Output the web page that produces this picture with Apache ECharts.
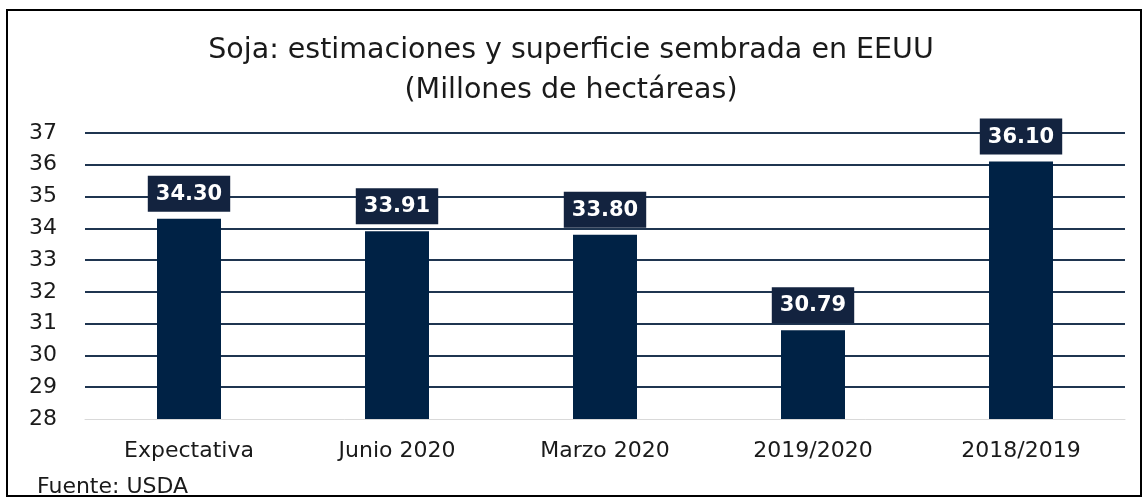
<!DOCTYPE html>
<html>
<head>
<meta charset="utf-8">
<script src="https://cdn.jsdelivr.net/npm/echarts@6/dist/echarts.min.js"></script>
<style>
  html, body { margin: 0; padding: 0; background: #fff; }
  #chart { width: 1148px; height: 497px; }
</style>
</head>
<body>
<div id="chart"></div>
<script>
  // datos
  const categorias = ['Expectativa', 'Junio 2020', 'Marzo 2020', '2019/2020', '2018/2019']
  const superficie = [34.30, 33.91, 33.80, 30.79, 36.10]

  const myChart = echarts.init(document.getElementById('chart'))
  const option = {
    animation: false,
    title: {
      text: 'Soja: estimaciones y superficie sembrada en EEUU\n(Millones de hectáreas)',
      left: 566,
      textAlign: 'center',
      top: 26,
      textStyle: {
        fontFamily: 'DejaVu Sans',
        fontWeight: 'normal',
        fontSize: 28.5,
        lineHeight: 40,
        color: '#1a1a1a'
      }
    },
    graphic: [
      {
        type: 'rect',
        shape: { x: 7, y: 10, width: 1134, height: 486 },
        style: { fill: 'none', stroke: '#000', lineWidth: 2 }
      },
      {
        type: 'text',
        left: 37,
        top: 476,
        style: { text: 'Fuente: USDA', font: '22px "DejaVu Sans"', fill: '#1a1a1a' }
      }
    ],
    grid: { left: 85, right: 23, top: 133, bottom: 78 },
    xAxis: {
      type: 'category',
      data: categorias,
      axisLine: { lineStyle: { color: '#d9d9d9', width: 1 } },
      axisTick: { show: false },
      axisLabel: {
        margin: 21,
        fontFamily: 'DejaVu Sans',
        fontSize: 22,
        color: '#1a1a1a'
      }
    },
    yAxis: {
      type: 'value',
      min: 28,
      max: 37,
      interval: 1,
      axisLine: { show: false },
      axisTick: { show: false },
      axisLabel: {
        margin: 28,
        fontFamily: 'DejaVu Sans',
        fontSize: 22,
        color: '#1a1a1a'
      },
      splitLine: { showMinLine: false, lineStyle: { color: '#1f3550', width: 2 } }
    },
    series: [{
      type: 'bar',
      data: superficie,
      barWidth: 64,
      itemStyle: { color: '#002245' },
      label: {
        show: true,
        position: 'top',
        distance: 7,
        formatter: p => p.value.toFixed(2),
        backgroundColor: '#13233f',
        padding: [8, 8, 7, 8],
        color: '#fff',
        fontFamily: 'DejaVu Sans',
        fontWeight: 'bold',
        fontSize: 21
      }
    }]
  }
  myChart.setOption(option, true)
</script>
</body>
</html>
